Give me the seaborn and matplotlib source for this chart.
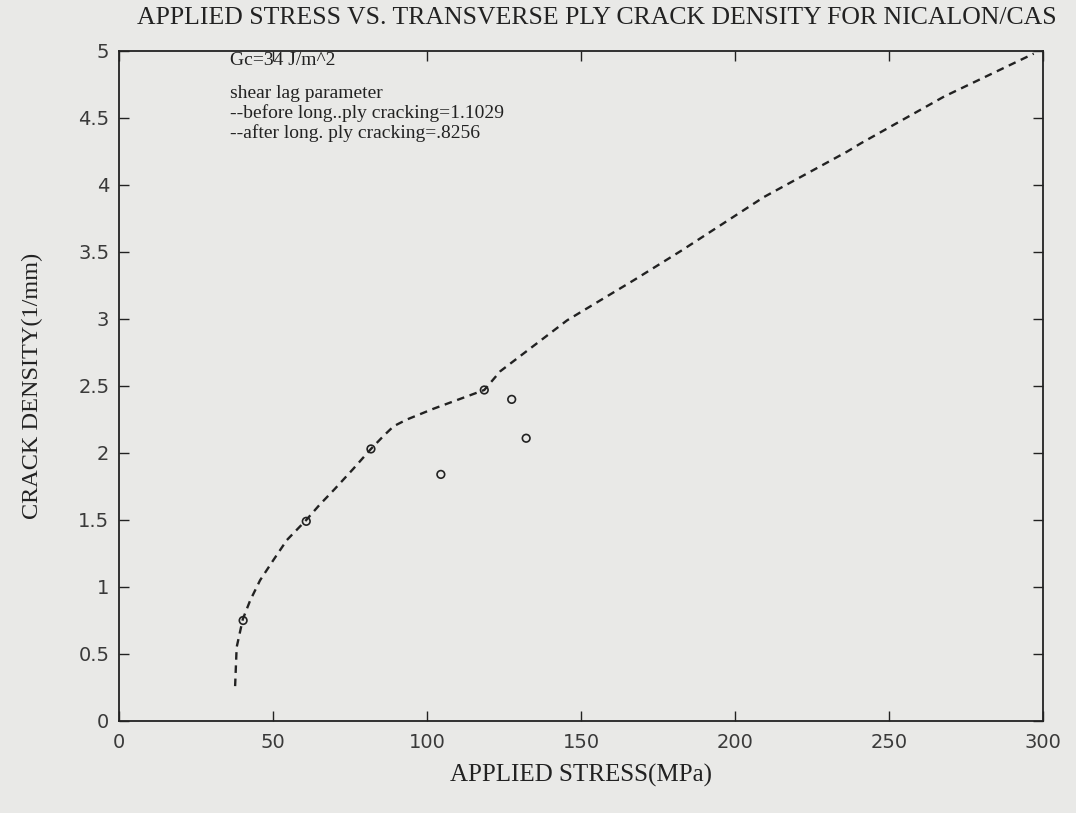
import matplotlib
matplotlib.use("Agg")
import matplotlib.pyplot as plt
import seaborn as sns
import pandas as pd

# Model prediction (shear-lag, Gc = 34 J/m^2)
model_stress = [37.7, 38.2, 40.2, 42.6, 45.8, 50.1, 54.5, 60.8, 65.0, 70.0,
                76.0, 81.8, 86.0, 89.2, 93.5, 102.1, 118.6, 123.8, 145.5,
                167.2, 182.6, 209.4, 236.5, 240.8, 267.9, 297.0]
model_density = [0.26, 0.55, 0.76, 0.90, 1.05, 1.20, 1.35, 1.50, 1.61, 1.73,
                 1.88, 2.03, 2.13, 2.20, 2.25, 2.33, 2.47, 2.61, 2.99,
                 3.29, 3.51, 3.91, 4.25, 4.31, 4.66, 4.98]

# Measured crack densities
exp_stress = [40.3, 60.8, 81.8, 104.5, 118.6, 127.5, 132.2]
exp_density = [0.75, 1.49, 2.03, 1.84, 2.47, 2.40, 2.11]

x_ticks = [0, 50, 100, 150, 200, 250, 300]
y_ticks = [0, 0.5, 1, 1.5, 2, 2.5, 3, 3.5, 4, 4.5, 5]
y_tick_labels = ["0", "0.5", "1", "1.5", "2", "2.5", "3", "3.5", "4", "4.5", "5"]

sns.set_style("ticks")
paper = "#e9e9e7"
ink = "#222222"
plt.rcParams["font.family"] = ["Liberation Serif", "DejaVu Serif"]

model_df = pd.DataFrame({"stress": model_stress, "density": model_density})
exp_df = pd.DataFrame({"stress": exp_stress, "density": exp_density})

fig = plt.figure(figsize=(10.76, 8.13), dpi=100, facecolor=paper)
ax = fig.add_axes([0.1106, 0.1132, 0.8587, 0.8241])
ax.set_facecolor(paper)

sns.lineplot(data=model_df, x="stress", y="density", sort=False, ax=ax,
             color=ink, linewidth=1.7, dashes=False, linestyle=(0, (3.2, 2.4)))
sns.scatterplot(data=exp_df, x="stress", y="density", ax=ax, marker="o",
                s=30, facecolor="none", edgecolor=ink, linewidth=1.2, zorder=3)

ax.set_xlim(0, 300)
ax.set_ylim(0, 5)
ax.set_xticks(x_ticks)
ax.set_yticks(y_ticks)
ax.set_yticklabels(y_tick_labels)
ax.tick_params(direction="in", length=7, width=1.0, color=ink,
               top=True, right=True, labelcolor="#3a3a3a")
ax.tick_params(axis="x", pad=9)
ax.tick_params(axis="y", pad=7)
for lab in ax.get_xticklabels() + ax.get_yticklabels():
    lab.set_fontfamily("DejaVu Sans")
    lab.set_fontsize(14)
for s in ax.spines.values():
    s.set_color(ink)
    s.set_linewidth(1.3)

ax.set_xlabel("APPLIED STRESS(MPa)", fontsize=18, color=ink, labelpad=8)
ax.set_ylabel("CRACK DENSITY(1/mm)", fontsize=17.5, color=ink, labelpad=25)

fig.text(0.555, 0.978, "APPLIED STRESS VS. TRANSVERSE PLY CRACK DENSITY FOR NICALON/CAS",
         ha="center", va="center", fontsize=18.5, color=ink)

ann = dict(fontsize=14, color=ink, va="center")
ax.text(36, 4.93, "Gc=34 J/m^2", **ann)
ax.text(36, 4.68, "shear lag parameter", **ann)
ax.text(36, 4.535, "--before long..ply cracking=1.1029", **ann)
ax.text(36, 4.385, "--after long. ply cracking=.8256", **ann)

fig.savefig("out.png", dpi=100, facecolor=paper)
